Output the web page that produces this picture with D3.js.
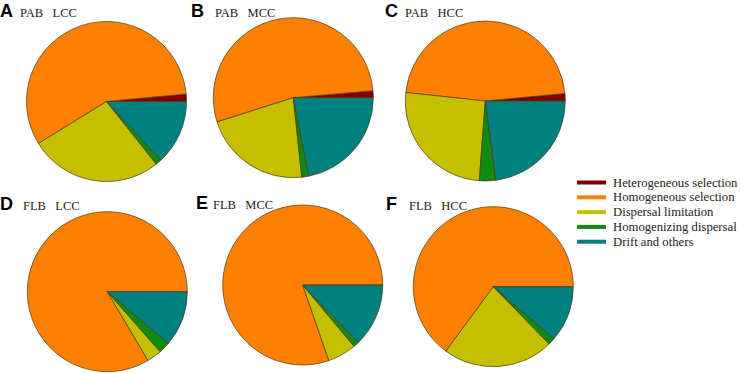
<!DOCTYPE html>
<html>
<head>
<meta charset="utf-8">
<script src="https://cdn.jsdelivr.net/npm/d3@7"></script>
<style>
  body { margin: 0; background: #fff; }
  svg { display: block; }
</style>
</head>
<body>
<div id="chart"></div>
<script>
// community assembly processes, percent share per panel
const categories = [
  "Heterogeneous selection",
  "Homogeneous selection",
  "Dispersal limitation",
  "Homogenizing dispersal",
  "Drift and others"
];
const colors = ["#7f0000", "#ff8000", "#c4c000", "#118a11", "#00807f"];

const panelLetters = ["A", "B", "C", "D", "E", "F"];
const panelTitles = ["PAB   LCC", "PAB   MCC", "PAB   HCC", "FLB   LCC", "FLB   MCC", "FLB   HCC"];

const pabLCC = [1.5, 57.3, 26.9, 1.2, 13.1];
const pabMCC = [1.4, 53.5, 21.8, 1.4, 21.9];
const pabHCC = [1.5, 46.8, 25.5, 3.3, 22.9];
const flbLCC = [0, 83.5, 3.0, 2.3, 11.2];
const flbMCC = [0, 80.3, 5.8, 1.1, 12.8];
const flbHCC = [0, 64.9, 22.4, 1.4, 11.3];

const panelValues = [pabLCC, pabMCC, pabHCC, flbLCC, flbMCC, flbHCC];

const width = 740;
const height = 373;

const svg = d3
  .select("#chart")
  .append("svg")
  .attr("width", width)
  .attr("height", height);

// layout of each panel: pie centre, letter and title position
const layout = [
  { cx: 106.5, cy: 101.5, lx: 0, ly: 17, tx: 20 },
  { cx: 293.3, cy: 97.7, lx: 191, ly: 16.5, tx: 215 },
  { cx: 485.3, cy: 101, lx: 385, ly: 17, tx: 405 },
  { cx: 107.3, cy: 291.7, lx: 0, ly: 210, tx: 23 },
  { cx: 302.7, cy: 285, lx: 196, ly: 208.5, tx: 213 },
  { cx: 493.3, cy: 286.7, lx: 386, ly: 210, tx: 409 }
];
const radius = 80;

const color = d3.scaleOrdinal().domain(categories).range(colors);

// counter-clockwise from 3 o'clock
const pie = d3
  .pie()
  .sort(null)
  .startAngle(Math.PI / 2)
  .endAngle(Math.PI / 2 - 2 * Math.PI);

const arc = d3.arc().innerRadius(0).outerRadius(radius);

panelValues.forEach((vals, i) => {
  const p = layout[i];
  const data = vals.map((v, j) => ({ cat: categories[j], value: v }));

  const g = svg.append("g").attr("transform", `translate(${p.cx},${p.cy})`);

  g.selectAll("path")
    .data(pie.value((d) => d.value)(data).filter((d) => d.data.value > 0))
    .enter()
    .append("path")
    .attr("d", arc)
    .style("fill", (d) => color(d.data.cat))
    .style("stroke", "#4a3a12")
    .style("stroke-width", "0.7px");

  svg.append("text")
    .attr("x", p.lx)
    .attr("y", p.ly)
    .style("font-family", "'Liberation Sans', Arial, sans-serif")
    .style("font-weight", "bold")
    .style("font-size", "18px")
    .text(panelLetters[i]);

  svg.append("text")
    .attr("x", p.tx)
    .attr("y", p.ly)
    .attr("xml:space", "preserve")
    .style("white-space", "pre")
    .style("font-family", "'Liberation Serif', 'Times New Roman', serif")
    .style("font-size", "12.5px")
    .style("fill", "#222")
    .text(panelTitles[i]);
});

// legend
const legend = svg.append("g").attr("transform", "translate(577, 182.5)");
const spacing = 14.8;

legend.selectAll(".legend-line")
  .data(categories)
  .enter()
  .append("line")
  .attr("class", "legend-line")
  .attr("x1", 0)
  .attr("x2", 29)
  .attr("y1", (d, i) => i * spacing)
  .attr("y2", (d, i) => i * spacing)
  .style("stroke", (d) => color(d))
  .style("stroke-width", 4);

legend.selectAll(".legend-label")
  .data(categories)
  .enter()
  .append("text")
  .attr("class", "legend-label")
  .attr("x", 36)
  .attr("y", (d, i) => i * spacing + 4)
  .style("font-family", "'Liberation Serif', 'Times New Roman', serif")
  .style("font-size", "12.7px")
  .style("fill", "#222")
  .text((d) => d);
</script>
</body>
</html>
